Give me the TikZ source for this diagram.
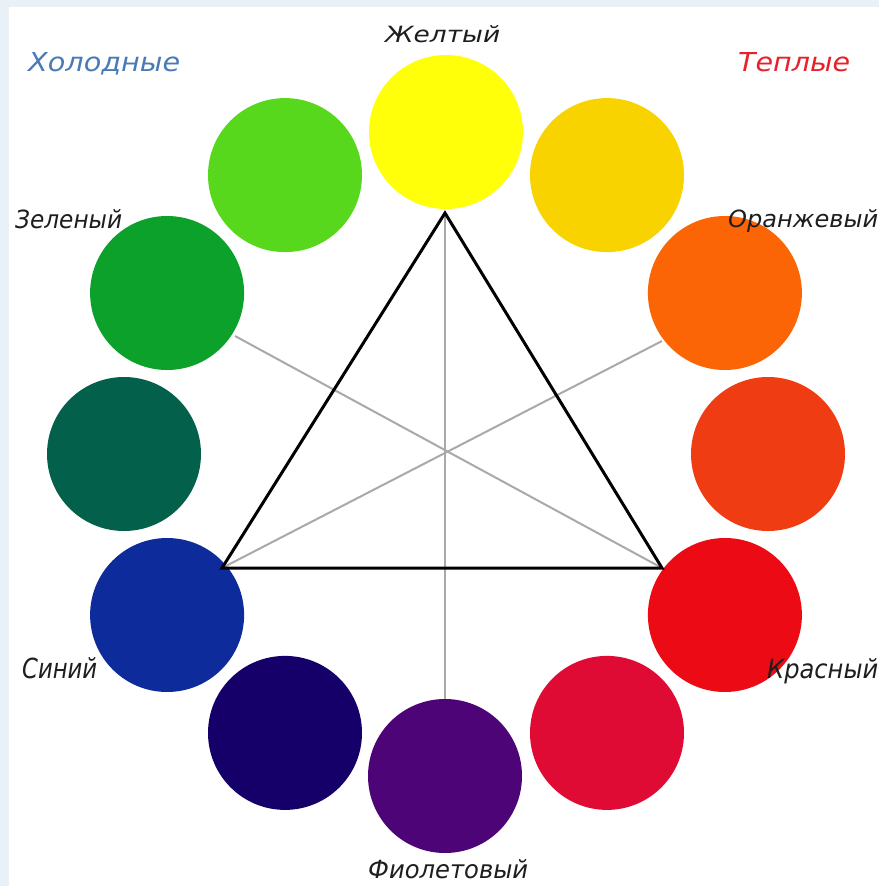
\documentclass[tikz,border=0pt]{standalone}
\usepackage{fontspec}
\setmainfont{DejaVu Sans}
\usepackage{graphicx}
\definecolor{frame}{HTML}{E9F0F6}
\definecolor{cY}{HTML}{FFFF0A}
\definecolor{cYO}{HTML}{F8D300}
\definecolor{cO}{HTML}{FC6506}
\definecolor{cRO}{HTML}{F03C12}
\definecolor{cR}{HTML}{EC0A14}
\definecolor{cRV}{HTML}{E00B34}
\definecolor{cV}{HTML}{4D0477}
\definecolor{cBV}{HTML}{15006A}
\definecolor{cB}{HTML}{0D2B9A}
\definecolor{cBG}{HTML}{03604B}
\definecolor{cG}{HTML}{0BA12B}
\definecolor{cYG}{HTML}{57D81C}
\definecolor{txt}{HTML}{1E1E1E}
\definecolor{coldblue}{HTML}{4A7AB6}
\definecolor{warmred}{HTML}{E8202A}
\definecolor{axisgray}{HTML}{A9A9A9}
\newcommand{\fitlbl}[3]{\resizebox{#1pt}{#2pt}{\itshape #3}}
\tikzset{
  disc/.style={circle, minimum size=154pt, inner sep=0pt, draw=none},
  lbl/.style={anchor=base west, inner sep=0pt, text=txt},
  axisline/.style={draw=axisgray, line width=2pt},
  triline/.style={draw=black, line width=3pt, line join=miter}
}
\begin{document}
\begin{tikzpicture}[x=1pt,y=-1pt]
\useasboundingbox (0,0) rectangle (879,886);
\fill[frame] (0,0) rectangle (879,886);
\fill[white] (9,7) rectangle (879,886);
% colour circles
\node[disc, fill=cY]  (cY)  at (446,132) {};
\node[disc, fill=cYO] (cYO) at (607,175.1) {};
\node[disc, fill=cO]  (cO)  at (724.9,293) {};
\node[disc, fill=cRO] (cRO) at (768,454) {};
\node[disc, fill=cR]  (cR)  at (724.9,615) {};
\node[disc, fill=cRV] (cRV) at (607,732.9) {};
\node[disc, fill=cV]  (cV)  at (445,776) {};
\node[disc, fill=cBV] (cBV) at (285,732.9) {};
\node[disc, fill=cB]  (cB)  at (167.1,615) {};
\node[disc, fill=cBG] (cBG) at (124,454) {};
\node[disc, fill=cG]  (cG)  at (167.1,293) {};
\node[disc, fill=cYG] (cYG) at (285,175.1) {};
% triangle vertices
\coordinate (tA) at (445,213);
\coordinate (tB) at (222,568);
\coordinate (tC) at (662,568);
\coordinate (gL) at (235,336);
\coordinate (gR) at (662,341);
% gray axes
\draw[axisline] (tA) -- (tA |- cV.north);
\draw[axisline] (gL) -- (tC);
\draw[axisline] (gR) -- (tB);
% triangle
\draw[triline] (tA) -- (tB) -- (tC) -- cycle;
% labels
\node[lbl, text=coldblue] (lcold) at (28,71) {\fitlbl{152}{19}{Холодные}};
\node[lbl, text=warmred] (lwarm) at (738,71) {\fitlbl{112}{19}{Теплые}};
\node[lbl] (lY) at (385,42) {\fitlbl{115}{17}{Желтый}};
\node[lbl] (lG) at (15,228) {\fitlbl{107}{19}{Зеленый}};
\node[lbl] (lO) at (728,227) {\fitlbl{150}{18}{Оранжевый}};
\node[lbl] (lB) at (22,678) {\fitlbl{75}{21}{Синий}};
\node[lbl] (lR) at (767,678) {\fitlbl{111}{20}{Красный}};
\node[lbl] (lV) at (368,878) {\fitlbl{160}{19}{Фиолетовый}};
\end{tikzpicture}
\end{document}
